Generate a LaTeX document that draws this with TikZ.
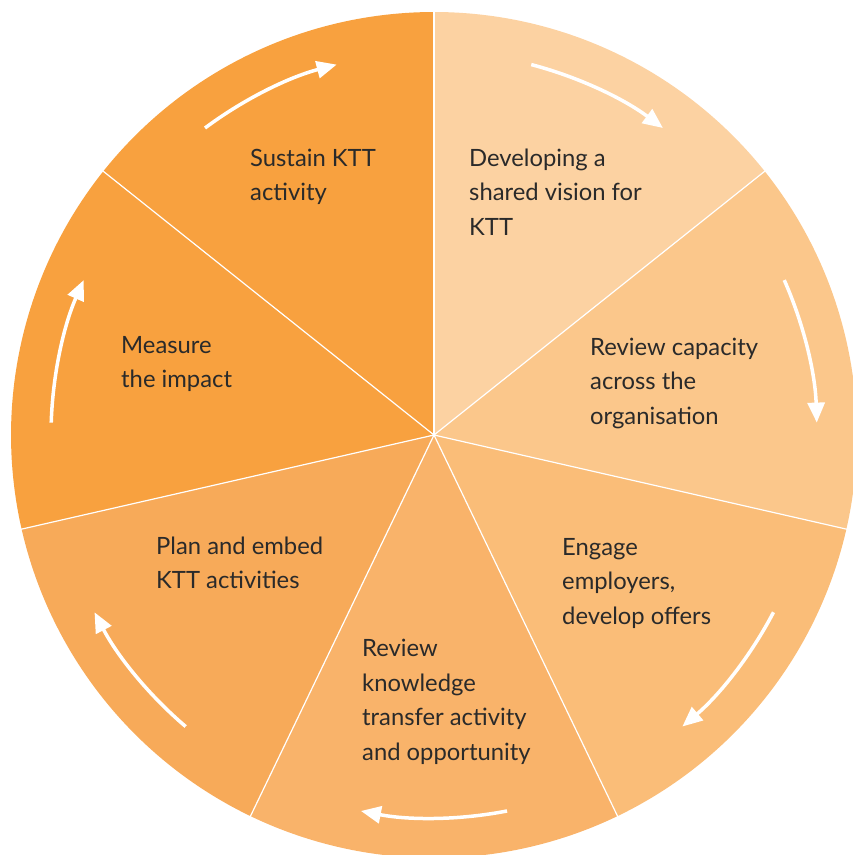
\documentclass[tikz,border=0pt]{standalone}
\usepackage{fontspec}
\setmainfont{Lato}
\usetikzlibrary{arrows.meta,calc}
\definecolor{segA}{HTML}{FCD2A2}
\definecolor{segB}{HTML}{FBC78B}
\definecolor{segC}{HTML}{FABD78}
\definecolor{segD}{HTML}{F9B36A}
\definecolor{segE}{HTML}{F7AA59}
\definecolor{segF}{HTML}{F8A13F}
\definecolor{segG}{HTML}{F8A13F}
\definecolor{labeltext}{HTML}{2A2A2A}
\tikzset{
  label text/.style={anchor=base west, align=left, inner sep=0pt,
    text=labeltext, font=\fontsize{23.8}{34.5}\selectfont},
  cycle arrow/.style={white, line width=3.5pt,
    -{Triangle[length=20pt,width=17pt]}},
  divider/.style={white, line width=1.2pt}
}
\begin{document}
% y grows downwards, so angles run clockwise on the page
\begin{tikzpicture}[x=1pt,y=-1pt]
\useasboundingbox (0,0) rectangle (853,855);
\clip (0,0) rectangle (853,855);
\coordinate (C) at (434,435);
\def\R{423}
\def\wedge{51.428571}
% seven wedges, clockwise from the top
\foreach \col [count=\i from 0] in {segA,segB,segC,segD,segE,segF,segG}{
  \pgfmathsetmacro\aa{-90+\i*\wedge}
  \pgfmathsetmacro\ab{-90+(\i+1)*\wedge}
  \fill[\col] (C) -- ($(C)+(\aa:\R)$) arc[start angle=\aa, end angle=\ab, radius=\R] -- cycle;
}
% white spokes between wedges
\foreach \i in {0,...,6}{
  \pgfmathsetmacro\aa{-90+\i*\wedge}
  \draw[divider] (C) -- ($(C)+(\aa:\R+5)$);
}
% curved arrows running clockwise around the ring
\foreach \i in {0,...,6}{
  \pgfmathsetmacro\am{-90+(\i+0.5)*\wedge}
  \pgfmathsetmacro\as{\am-11}
  \pgfmathsetmacro\ae{\am+11}
  \draw[cycle arrow] ($(C)+(\as:383)$) arc[start angle=\as, end angle=\ae, radius=383];
}
% stage labels (anchored at the baseline of their last line)
\node[label text] (vision) at (469,235) {Developing a\\shared vision for\\KTT};
\node[label text] (capacity) at (590,424) {Review capacity\\across the\\organisation};
\node[label text] (engage) at (562,624) {Engage\\employers,\\develop offers};
\node[label text] (review) at (362,760) {Review\\knowledge\\transfer activity\\and opportunity};
\node[label text] (plan) at (156,588.5) {Plan and embed\\KTT activities};
\node[label text] (measure) at (121,387.5) {Measure\\the impact};
\node[label text] (sustain) at (250,200.5) {Sustain KTT\\activity};
\end{tikzpicture}
\end{document}
